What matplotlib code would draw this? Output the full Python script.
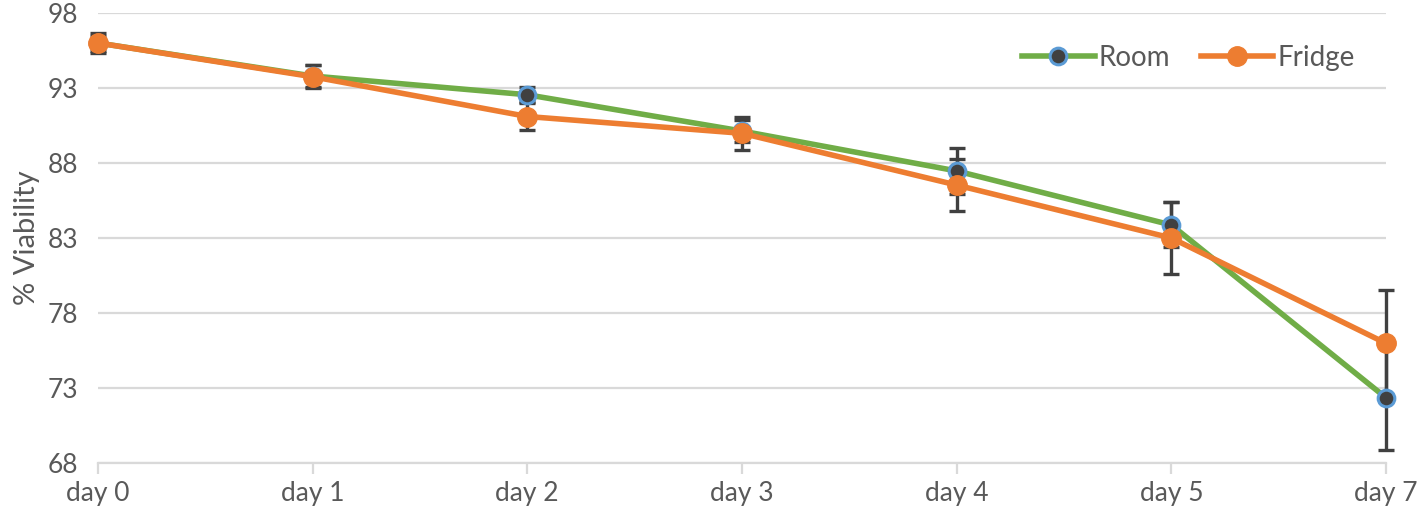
import matplotlib.pyplot as plt

# data
days = ['day 0', 'day 1', 'day 2', 'day 3', 'day 4', 'day 5', 'day 7']
room = [96.0, 93.8, 92.55, 90.13, 87.47, 83.87, 72.35]
room_err = [0.5, 0.75, 0.5, 0.73, 1.55, 1.5, 3.47]
fridge = [96.0, 93.75, 91.1, 89.98, 86.53, 83.0, 75.98]
fridge_err = [0.67, 0.78, 0.89, 1.1, 1.73, 2.4, 3.53]

plt.rcParams['font.family'] = ['Lato', 'DejaVu Sans']
txt = '#595959'
grid = '#d9d9d9'

fig = plt.figure(figsize=(14.24, 5.16), dpi=100)
ax = fig.add_axes([0.0688, 0.1027, 0.9045, 0.8721])

x = list(range(len(days)))

# error bars first so the markers sit on top
for vals, err in [(room, room_err), (fridge, fridge_err)]:
    eb = ax.errorbar(x, vals, yerr=err, fmt='none', ecolor='#404040',
                     elinewidth=2.4, capsize=5.5, capthick=2.4, zorder=3)
    for art in eb.lines[1] + eb.lines[2]:
        art.set_clip_on(False)

ax.plot(x, room, color='#70AD47', linewidth=4, marker='o', markersize=12,
        markerfacecolor='#404040', markeredgecolor='#5B9BD5',
        markeredgewidth=2.2, label='Room', zorder=4, clip_on=False)
ax.plot(x, fridge, color='#ED7D31', linewidth=4, marker='o', markersize=14,
        markerfacecolor='#ED7D31', markeredgecolor='#ED7D31',
        label='Fridge', zorder=5, clip_on=False)

ax.set_xlim(0, 6)
ax.set_ylim(68, 98)
ax.set_yticks([68, 73, 78, 83, 88, 93, 98])
ax.set_xticks(x)
ax.set_xticklabels(days)

ax.grid(axis='y', color=grid, linewidth=1.6)
ax.set_axisbelow(True)
for s in ['top', 'right', 'left']:
    ax.spines[s].set_visible(False)
ax.spines['bottom'].set_color(grid)
ax.spines['bottom'].set_linewidth(1.6)

ax.tick_params(axis='y', length=0, pad=14, labelsize=19, labelcolor=txt)
ax.tick_params(axis='x', length=8, width=1.6, color=grid, direction='out',
               pad=5, labelsize=19, labelcolor=txt)
ax.set_ylabel('% Viability', fontsize=21, color=txt, labelpad=6)

leg = ax.legend(loc='upper right', bbox_to_anchor=(0.995, 0.985), ncol=2,
                frameon=False, fontsize=20, labelcolor=txt, handlelength=2.6,
                columnspacing=1.1, handletextpad=0.15)

fig.savefig('out.png', dpi=100)
